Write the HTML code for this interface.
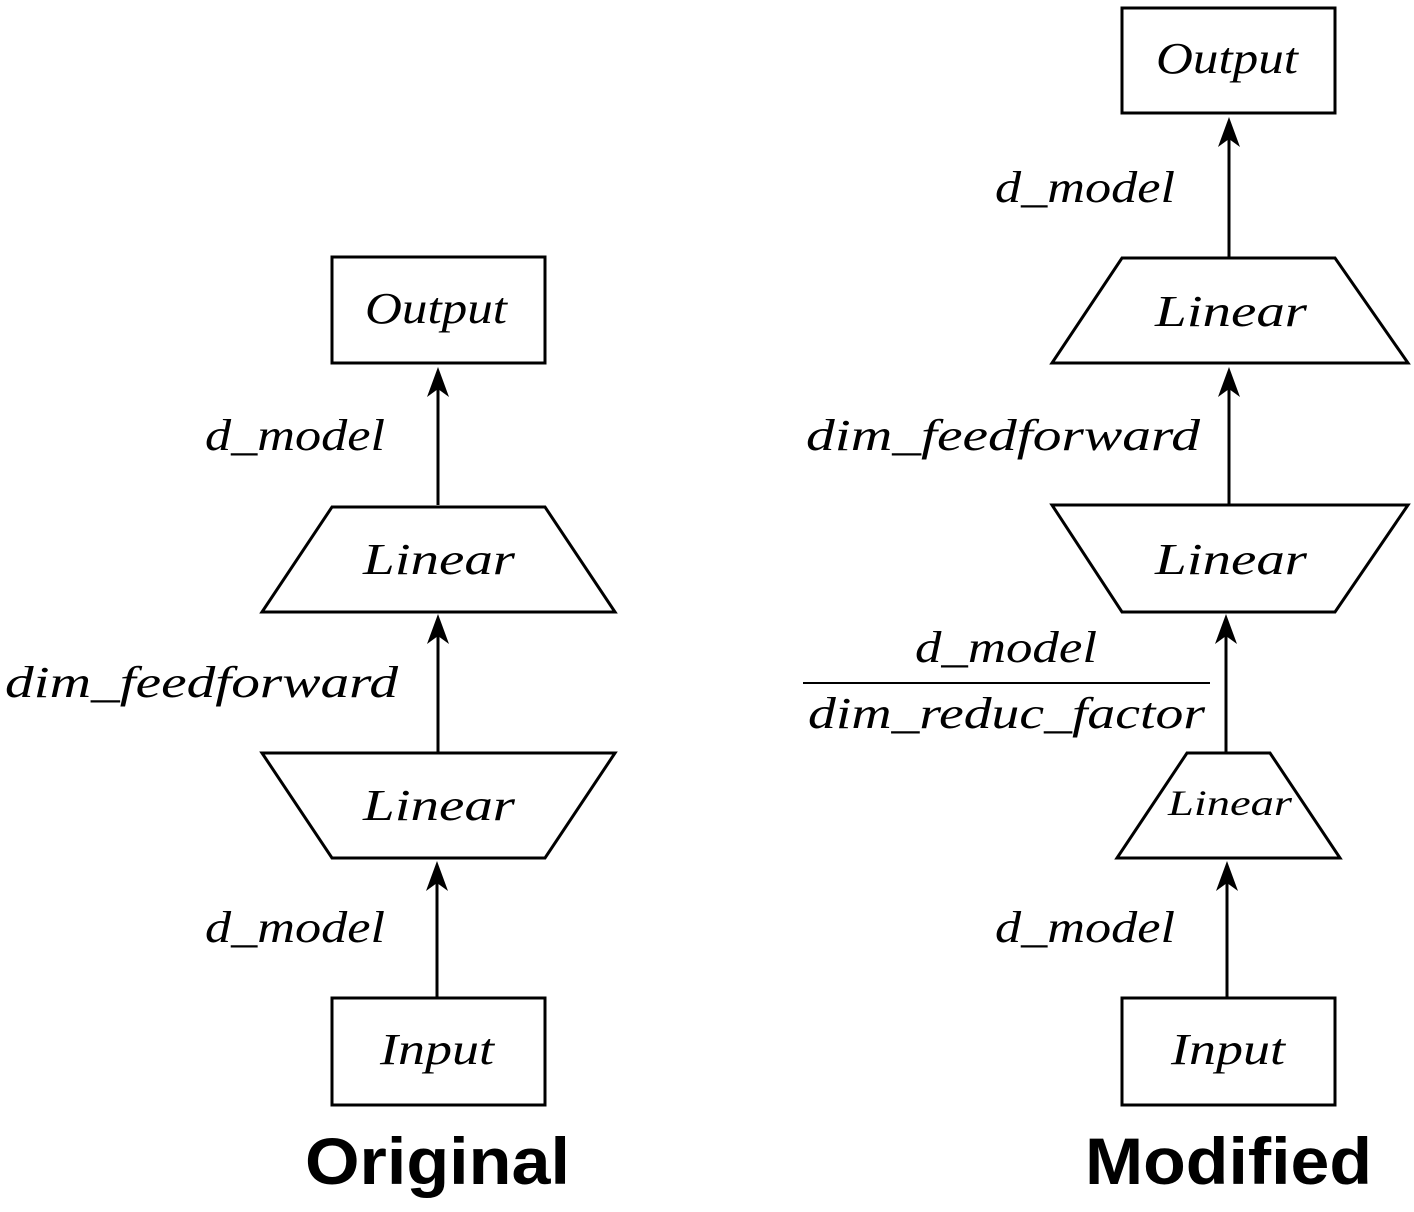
<!DOCTYPE html>
<html><head><style>html,body{margin:0;padding:0;background:#fff}</style></head>
<body>
<svg width="1414" height="1207" viewBox="0 0 1414 1207" xmlns="http://www.w3.org/2000/svg">
<defs>
<marker id="a" markerWidth="10" markerHeight="10" refX="8" refY="5" orient="auto" markerUnits="userSpaceOnUse" viewBox="0 0 10 10">
</marker>
</defs>
<g fill="none" stroke="#000" stroke-width="3">
<!-- left -->
<rect x="332" y="257" width="213" height="106"/>
<polygon points="332,507 545,507 615,612 262,612"/>
<polygon points="262,753 615,753 545,858 332,858"/>
<rect x="332" y="998" width="213" height="107"/>
<line x1="438" y1="505" x2="438" y2="385"/>
<line x1="438" y1="752" x2="438" y2="632"/>
<line x1="437" y1="998" x2="437" y2="880"/>
<!-- right -->
<rect x="1122" y="8" width="213" height="105"/>
<polygon points="1122,258 1335,258 1408,363 1052,363"/>
<polygon points="1052,505 1408,505 1335,612 1122,612"/>
<polygon points="1187,753 1270,753 1340,858 1117,858"/>
<rect x="1122" y="998" width="213" height="107"/>
<line x1="1229" y1="257" x2="1229" y2="135"/>
<line x1="1229" y1="505" x2="1229" y2="385"/>
<line x1="1226" y1="752" x2="1226" y2="632"/>
<line x1="1227" y1="998" x2="1227" y2="880"/>
<line x1="803" y1="683" x2="1210" y2="683" stroke-width="2"/>
</g>
<g fill="#000">
<polygon points="438,367 427,397 438,389 449,397"/>
<polygon points="438,614 427,644 438,636 449,644"/>
<polygon points="437,861 426,891 437,883 448,891"/>
<polygon points="1229,117 1218,147 1229,139 1240,147"/>
<polygon points="1229,367 1218,397 1229,389 1240,397"/>
<polygon points="1226,614 1215,644 1226,636 1237,644"/>
<polygon points="1227,861 1216,891 1227,883 1238,891"/>
</g>
<g font-family="Liberation Serif, serif" font-style="italic" font-size="44" fill="#000" lengthAdjust="spacingAndGlyphs">
<text x="365" y="323" textLength="142" lengthAdjust="spacingAndGlyphs">Output</text>
<text x="363" y="574" textLength="152" lengthAdjust="spacingAndGlyphs">Linear</text>
<text x="363" y="820" textLength="152" lengthAdjust="spacingAndGlyphs">Linear</text>
<text x="380" y="1064" textLength="114" lengthAdjust="spacingAndGlyphs">Input</text>
<text x="205" y="450" textLength="180" lengthAdjust="spacingAndGlyphs">d_model</text>
<text x="5" y="697" textLength="393" lengthAdjust="spacingAndGlyphs">dim_feedforward</text>
<text x="205" y="942" textLength="180" lengthAdjust="spacingAndGlyphs">d_model</text>
<text x="1156" y="73" textLength="142" lengthAdjust="spacingAndGlyphs">Output</text>
<text x="1155" y="326" textLength="152" lengthAdjust="spacingAndGlyphs">Linear</text>
<text x="1155" y="574" textLength="152" lengthAdjust="spacingAndGlyphs">Linear</text>
<text x="1168" y="815" font-size="36" textLength="124" lengthAdjust="spacingAndGlyphs">Linear</text>
<text x="1171" y="1064" textLength="114" lengthAdjust="spacingAndGlyphs">Input</text>
<text x="995" y="202" textLength="180" lengthAdjust="spacingAndGlyphs">d_model</text>
<text x="806" y="450" textLength="394" lengthAdjust="spacingAndGlyphs">dim_feedforward</text>
<text x="915" y="662" textLength="182" lengthAdjust="spacingAndGlyphs">d_model</text>
<text x="808" y="728" textLength="397" lengthAdjust="spacingAndGlyphs">dim_reduc_factor</text>
<text x="995" y="942" textLength="180" lengthAdjust="spacingAndGlyphs">d_model</text>
</g>
<g font-family="Liberation Sans, sans-serif" font-weight="bold" font-size="66" fill="#000">
<text x="305" y="1184" textLength="265" lengthAdjust="spacingAndGlyphs">Original</text>
<text x="1085" y="1184" textLength="287" lengthAdjust="spacingAndGlyphs">Modified</text>
</g>
</svg>
</body></html>
